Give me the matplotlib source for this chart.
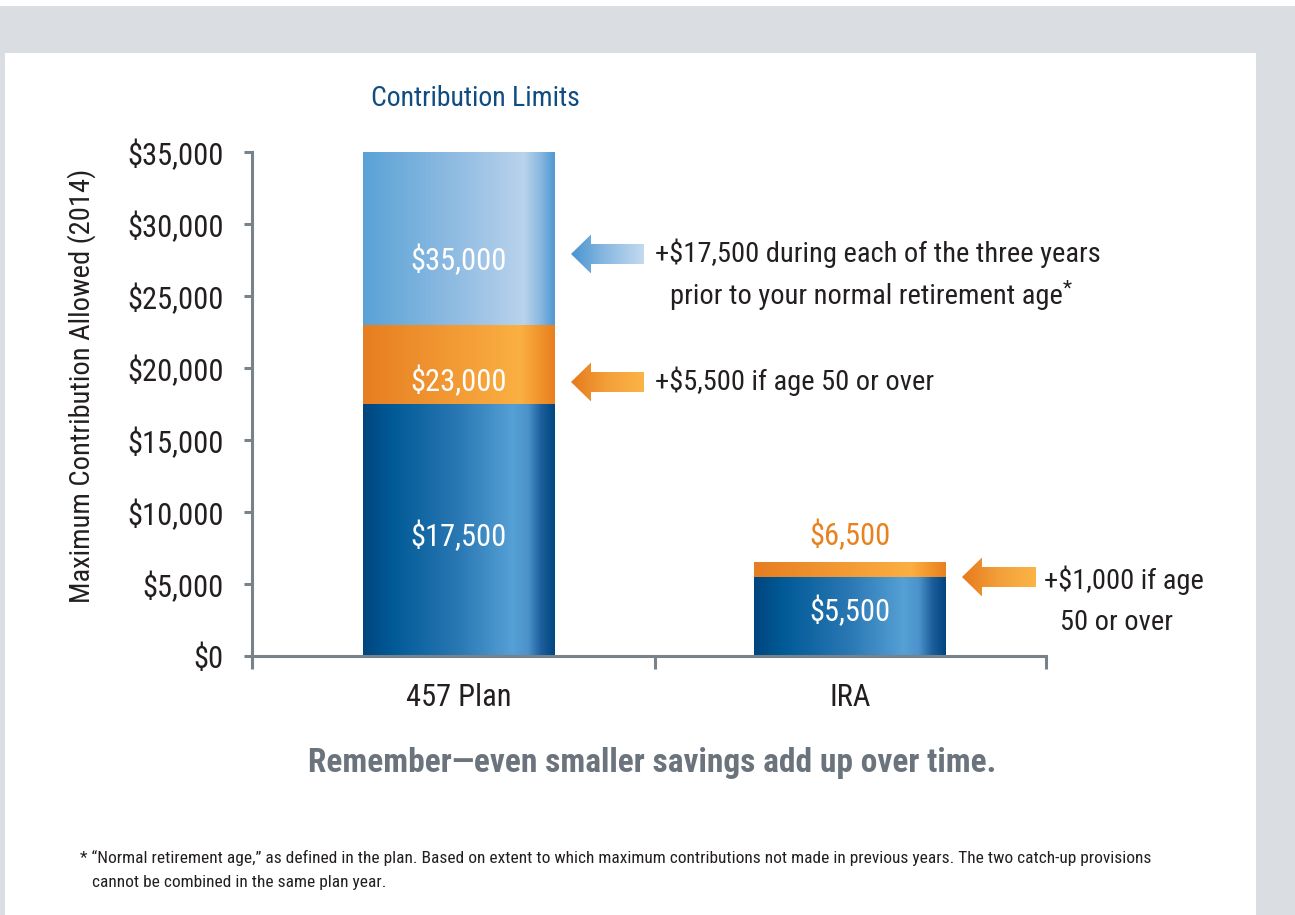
import numpy as np
import matplotlib
matplotlib.use('Agg')
import matplotlib.pyplot as plt
from matplotlib import font_manager
from matplotlib.colors import LinearSegmentedColormap
from matplotlib.patches import Polygon, Rectangle

# 2014 contribution limits
plans = ['457 Plan', 'IRA']
base_limit = [17500, 5500]        # standard limit
age50_limit = [23000, 6500]       # with age 50+ catch-up
three_year_limit = [35000, None]  # 457 special 3-year catch-up
yticks = np.arange(0, 35001, 5000)

# pick a condensed face if one is around
names = {f.name for f in font_manager.fontManager.ttflist}
fam = 'DejaVu Sans'
for cand in ['Liberation Sans Narrow', 'Roboto Condensed', 'Open Sans Condensed']:
    if cand in names:
        fam = cand
        break
plt.rcParams['font.family'] = [fam, 'DejaVu Sans']
if fam == 'DejaVu Sans':
    plt.rcParams['font.stretch'] = 'condensed'

W, H = 1295, 915
dark_txt = '#231f20'
axis_col = '#78828b'

dark = LinearSegmentedColormap.from_list('dark', [(0, '#00457f'), (0.15, '#005a96'), (0.5, '#2a78b4'),
                                                  (0.78, '#55a0d5'), (0.86, '#4c93cb'), (0.93, '#1c5f9c'),
                                                  (1, '#004680')])
light = LinearSegmentedColormap.from_list('light', [(0, '#5aa2d6'), (0.55, '#98c0e4'), (0.84, '#b9d3ec'),
                                                    (0.92, '#8dbae1'), (1, '#4f99d3')])
orange = LinearSegmentedColormap.from_list('orange', [(0, '#e77e21'), (0.6, '#f5a23a'), (0.82, '#fbb042'),
                                                      (0.9, '#f39a30'), (1, '#e8801f')])
arrow_blue = LinearSegmentedColormap.from_list('ab', ['#4a94cf', '#8dbbe2', '#c3daef'])
arrow_orange = LinearSegmentedColormap.from_list('ao', ['#e67a1c', '#f3a03a', '#fbb446'])

g = np.linspace(0, 1, 256).reshape(1, -1)

fig = plt.figure(figsize=(W / 100, H / 100), dpi=100)
fig.patch.set_facecolor('#dadde1')

# background layer in pixel coordinates
ov = fig.add_axes([0, 0, 1, 1], zorder=0)
ov.add_patch(Rectangle((0, 0), W, 6, fc='white', ec='none', zorder=0))
ov.add_patch(Rectangle((5, 53), 1251, H - 53, fc='white', ec='none', zorder=0))


def arrow(x0, x1, y, cmap, hl=20, hh=19.5, sh=10):
    pts = [(x0, y), (x0 + hl, y - hh), (x0 + hl, y - sh), (x1, y - sh),
           (x1, y + sh), (x0 + hl, y + sh), (x0 + hl, y + hh)]
    poly = Polygon(pts, closed=True, fc='none', ec='none')
    ov.add_patch(poly)
    im = ov.imshow(g, cmap=cmap, extent=(x0, x1, y + hh, y - hh), aspect='auto',
                   interpolation='bicubic', zorder=3)
    im.set_clip_path(poly)


arrow(571, 644, 254, arrow_blue)
arrow(571, 644, 382, arrow_orange)
arrow(962, 1036, 577, arrow_orange)
ov.set_xlim(0, W)
ov.set_ylim(H, 0)
ov.axis('off')

ann = 20.5
ov.text(475, 98, 'Contribution Limits', fontsize=20, color='#0f4c81', ha='center', va='center')
ov.text(82, 386, 'Maximum Contribution Allowed (2014)', fontsize=20.5, color=dark_txt,
        rotation=90, ha='center', va='center')
ov.text(655, 253, '+$17,500 during each of the three years', fontsize=ann, color=dark_txt, va='center')
ov.text(670, 297, 'prior to your normal retirement age', fontsize=ann, color=dark_txt, va='center')
ov.text(1063, 289, '*', fontsize=15, color=dark_txt, va='center')
ov.text(655, 381, '+$5,500 if age 50 or over', fontsize=ann, color=dark_txt, va='center')
ov.text(1044, 580, '+$1,000 if age', fontsize=ann, color=dark_txt, va='center')
ov.text(1060, 622, '50 or over', fontsize=ann, color=dark_txt, va='center')
ov.text(652, 763, 'Remember\u2014even smaller savings add up over time.', fontsize=24,
        fontweight='bold', color='#6b747c', ha='center', va='center')
ov.text(80, 858, '* \u201cNormal retirement age,\u201d as defined in the plan. Based on extent to which maximum '
        'contributions not made in previous years. The two catch-up provisions',
        fontsize=12.5, color=dark_txt, va='center')
ov.text(92, 883, 'cannot be combined in the same plan year.', fontsize=12.5, color=dark_txt, va='center')

# the chart itself
ax = fig.add_axes([251.5 / W, (H - 656) / H, 794.5 / W, 504 / H], zorder=1)
ax.set_facecolor('none')
w = 0.49
for i in range(len(plans)):
    segs = [(0, base_limit[i], dark), (base_limit[i], age50_limit[i], orange)]
    if three_year_limit[i] is not None:
        segs.append((age50_limit[i], three_year_limit[i], light))
    for y0, y1, cm in segs:
        ax.imshow(g, cmap=cm, extent=(i - w / 2, i + w / 2, y0, y1), aspect='auto',
                  interpolation='bicubic', zorder=2)

# value labels
ax.text(0, 27500, f'${three_year_limit[0]:,}', color='white', fontsize=22, ha='center', va='center', zorder=3)
ax.text(0, 19100, f'${age50_limit[0]:,}', color='white', fontsize=22, ha='center', va='center', zorder=3)
ax.text(0, 8300, f'${base_limit[0]:,}', color='white', fontsize=22, ha='center', va='center', zorder=3)
ax.text(1, 3100, f'${base_limit[1]:,}', color='white', fontsize=22, ha='center', va='center', zorder=3)
ax.text(1, 8400, f'${age50_limit[1]:,}', color='#e8821e', fontsize=22, ha='center', va='center', zorder=3)

ax.set_xlim(-0.53, 1.5)
ax.set_ylim(0, 35000)
for s in ['top', 'right']:
    ax.spines[s].set_visible(False)
for s in ['left', 'bottom']:
    ax.spines[s].set_color(axis_col)
    ax.spines[s].set_linewidth(2.2)
ax.set_yticks(yticks)
ax.set_yticklabels([f'${v:,}' for v in yticks])
ax.tick_params(axis='y', length=6, width=2.2, color=axis_col, pad=14, labelsize=22, labelcolor=dark_txt)
ax.set_xticks([-0.53, 0.5, 1.5])
ax.set_xticklabels([])
ax.tick_params(axis='x', length=9, width=2.2, color=axis_col)
for i, p in enumerate(plans):
    ax.text(i, -0.0833, p, transform=ax.get_xaxis_transform(), ha='center', va='center',
            fontsize=22, color=dark_txt)

fig.savefig('out.png', dpi=100, facecolor=fig.get_facecolor())
